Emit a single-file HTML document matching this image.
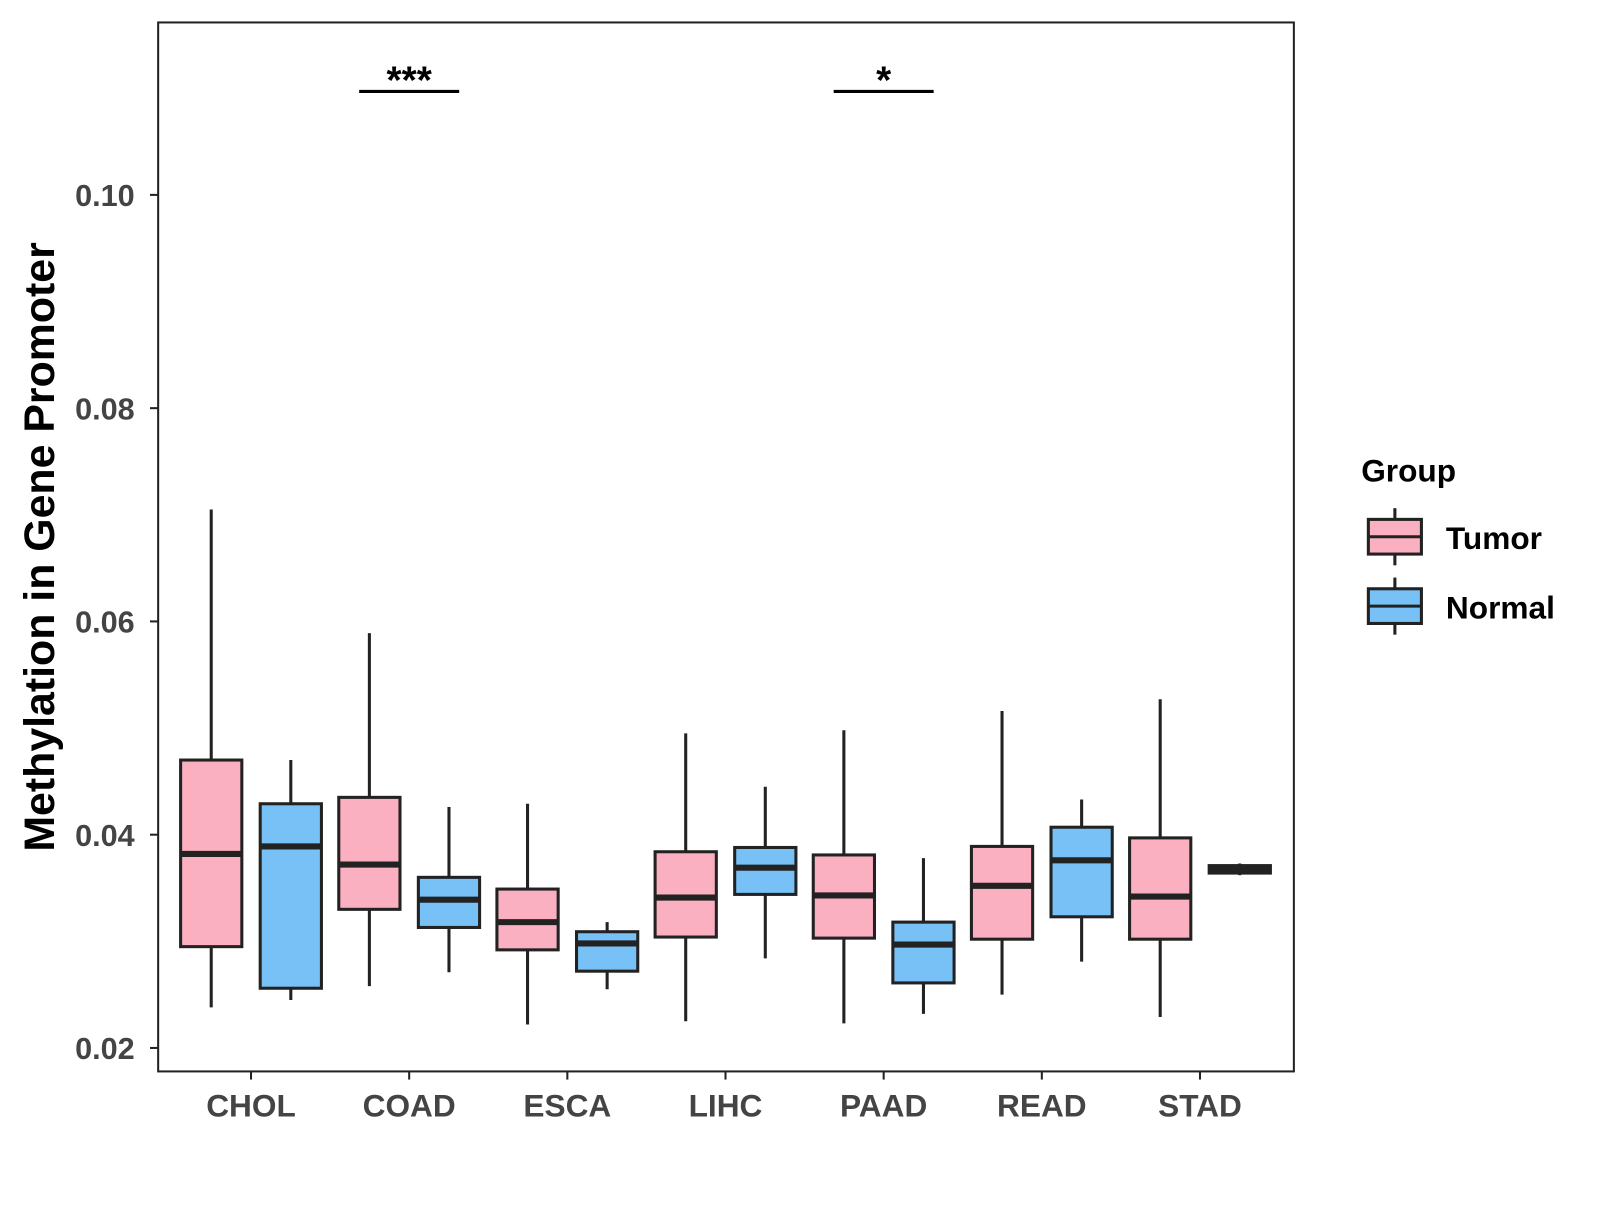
<!DOCTYPE html>
<html><head><meta charset="utf-8"><style>
body{margin:0;background:#fff}
svg text{font-family:"Liberation Sans",Arial,sans-serif;font-weight:bold}
</style></head><body>
<svg id="chart" width="1600" height="1200" viewBox="0 0 1600 1200">
<rect x="0" y="0" width="1600" height="1200" fill="#fff"/>
<g transform="scale(1.0204)">
<g id="marks"></g>
<rect x="155" y="22" width="1113" height="1028" fill="none" stroke="#222" stroke-width="2"/>
<g id="axes"></g>
<text transform="translate(53,536) rotate(-90)" text-anchor="middle" font-size="42" fill="#000">Methylation in Gene Promoter</text>
<g>
<text x="1334" y="472" font-size="31" fill="#000">Group</text>
<g>
<line x1="1367" y1="498" x2="1367" y2="554" stroke="#222" stroke-width="3"/>
<rect x="1341" y="509" width="52" height="34" fill="#FBB0C1" stroke="#222" stroke-width="3"/>
<line x1="1341" y1="526" x2="1393" y2="526" stroke="#222" stroke-width="3"/>
<text x="1417" y="538" font-size="31" fill="#000">Tumor</text></g>
<g>
<line x1="1367" y1="566" x2="1367" y2="622" stroke="#222" stroke-width="3"/>
<rect x="1341" y="577" width="52" height="34" fill="#78C1F7" stroke="#222" stroke-width="3"/>
<line x1="1341" y1="594" x2="1393" y2="594" stroke="#222" stroke-width="3"/>
<text x="1417" y="606" font-size="31" fill="#000">Normal</text></g>
</g>
</g>
</svg>
<script>
const categories=["CHOL","COAD","ESCA","LIHC","PAAD","READ","STAD"];
const yTicks=[0.02,0.04,0.06,0.08,0.10];
const yTickLabels=["0.02","0.04","0.06","0.08","0.10"];
// [lowWhisker, q1, median, q3, highWhisker]
const tumorStats=[[0.0238,0.0295,0.0382,0.0470,0.0705],[0.0258,0.0330,0.0372,0.0435,0.0589],[0.0222,0.0292,0.0318,0.0349,0.0429],[0.0225,0.0304,0.0341,0.0384,0.0495],[0.0223,0.0303,0.0343,0.0381,0.0498],[0.0250,0.0302,0.0352,0.0389,0.0516],[0.0229,0.0302,0.0342,0.0397,0.0527]];
const normalStats=[[0.0245,0.0256,0.0389,0.0429,0.0470],[0.0271,0.0313,0.0339,0.0360,0.0426],[0.0255,0.0272,0.0298,0.0309,0.0318],[0.0284,0.0344,0.0369,0.0388,0.0445],[0.0232,0.0261,0.0297,0.0318,0.0378],[0.0281,0.0323,0.0376,0.0407,0.0433],[0.0362,0.0364,0.0367,0.0371,0.0373]];
const sigCategories=["COAD","PAAD"];
const sigLabels=["***","*"];
const sigValue=0.1097;

const NS="http://www.w3.org/2000/svg";
const y=v=>1027-(v-0.02)*10450;
const x=i=>246+i*155;
const marks=document.getElementById('marks'), axes=document.getElementById('axes');
function mk(tag,attrs,parent){const e=document.createElementNS(NS,tag);for(const k in attrs)e.setAttribute(k,attrs[k]);parent.appendChild(e);return e;}
function box(s,cx,fill,name){
  const g=mk('g',{},marks);
  
  
  const w=60;
  mk('line',{x1:cx,x2:cx,y1:y(s[0]),y2:y(s[4]),stroke:'#222','stroke-width':3},g);
  mk('rect',{x:cx-w/2,y:y(s[3]),width:w,height:Math.max(y(s[1])-y(s[3]),1),fill:fill,stroke:'#222','stroke-width':3},g);
  mk('line',{x1:cx-w/2,x2:cx+w/2,y1:y(s[2]),y2:y(s[2]),stroke:'#222','stroke-width':6},g);
}
categories.forEach((c,i)=>{
  box(tumorStats[i],x(i)-39,'#FBB0C1','box-tumor-'+c.toLowerCase());
  box(normalStats[i],x(i)+39,'#78C1F7','box-normal-'+c.toLowerCase());
  mk('line',{x1:x(i),x2:x(i),y1:1050,y2:1058,stroke:'#222','stroke-width':2},axes);
  const t=mk('text',{x:x(i),y:1094,'text-anchor':'middle','font-size':31,fill:'#444'},axes);
  
  
  t.textContent=c;
});
yTicks.forEach((v,i)=>{
  mk('line',{x1:147,x2:155,y1:y(v),y2:y(v),stroke:'#222','stroke-width':2},axes);
  const t=mk('text',{x:132,y:y(v)+11,'text-anchor':'end','font-size':30,fill:'#444'},axes);
  
  
  t.textContent=yTickLabels[i];
});
sigCategories.forEach((c,k)=>{
  const i=categories.indexOf(c);
  const g=mk('g',{},marks);
  
  
  mk('line',{x1:x(i)-49,x2:x(i)+49,y1:y(sigValue),y2:y(sigValue),stroke:'#000','stroke-width':3},g);
  const t=mk('text',{x:x(i),y:y(sigValue)+2,'text-anchor':'middle','font-size':38,fill:'#000'},g);
  t.textContent=sigLabels[k];
});
</script>
</body></html>
